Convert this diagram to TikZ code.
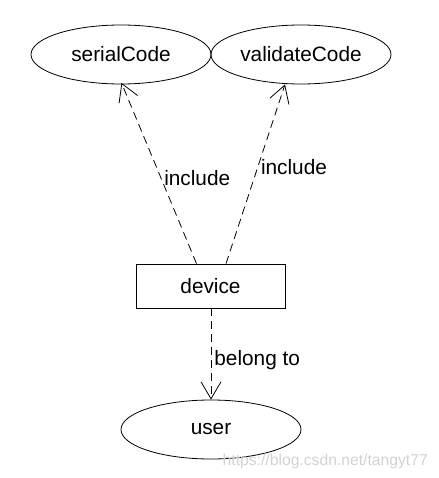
\documentclass[tikz,border=0pt]{standalone}
\usepackage{fontspec}
\setmainfont{Liberation Sans}
\usetikzlibrary{shapes.geometric,arrows.meta}
\begin{document}
\begin{tikzpicture}[x=1pt,y=-1pt,
  every node/.style={font=\fontsize{20.8}{25}\selectfont},
  usecase/.style={draw,line width=0.8pt,ellipse,minimum width=180pt,minimum height=59pt,inner sep=0pt},
  classbox/.style={draw,line width=0.8pt,rectangle,minimum width=149pt,minimum height=44pt,inner sep=0pt},
  dep/.style={draw,line width=0.8pt,dash pattern=on 8pt off 5pt,-{Straight Barb[length=17pt,width=20pt,line width=0.8pt]}},
  lbl/.style={inner sep=3pt},
]
\useasboundingbox (0,0) rectangle (438,478);
\node[usecase] (serial) at (121,54.5) {serialCode};
\node[usecase] (validate) at (301,54.5) {validateCode};
\node[classbox] (device) at (210.5,286) {device};
\node[usecase] (user) at (211,429.5) {user};
\draw[dep] ([xshift=-14pt]device.north) -- node[pos=0.475,right,lbl]{include} ([xshift=0.5pt,yshift=1.5pt]serial.south);
\draw[dep] ([xshift=15.5pt]device.north) -- node[pos=0.536,right,lbl]{include} ([xshift=-16pt]validate.south);
\draw[dep] ([xshift=0.5pt]device.south) -- node[pos=0.57,right,lbl]{belong to} (user.north);
\node[anchor=east,text=gray!35,font=\fontsize{15.7}{18}\selectfont,inner sep=0pt] (wm) at (428,461) {https://blog.csdn.net/tangyt77};
\end{tikzpicture}
\end{document}
